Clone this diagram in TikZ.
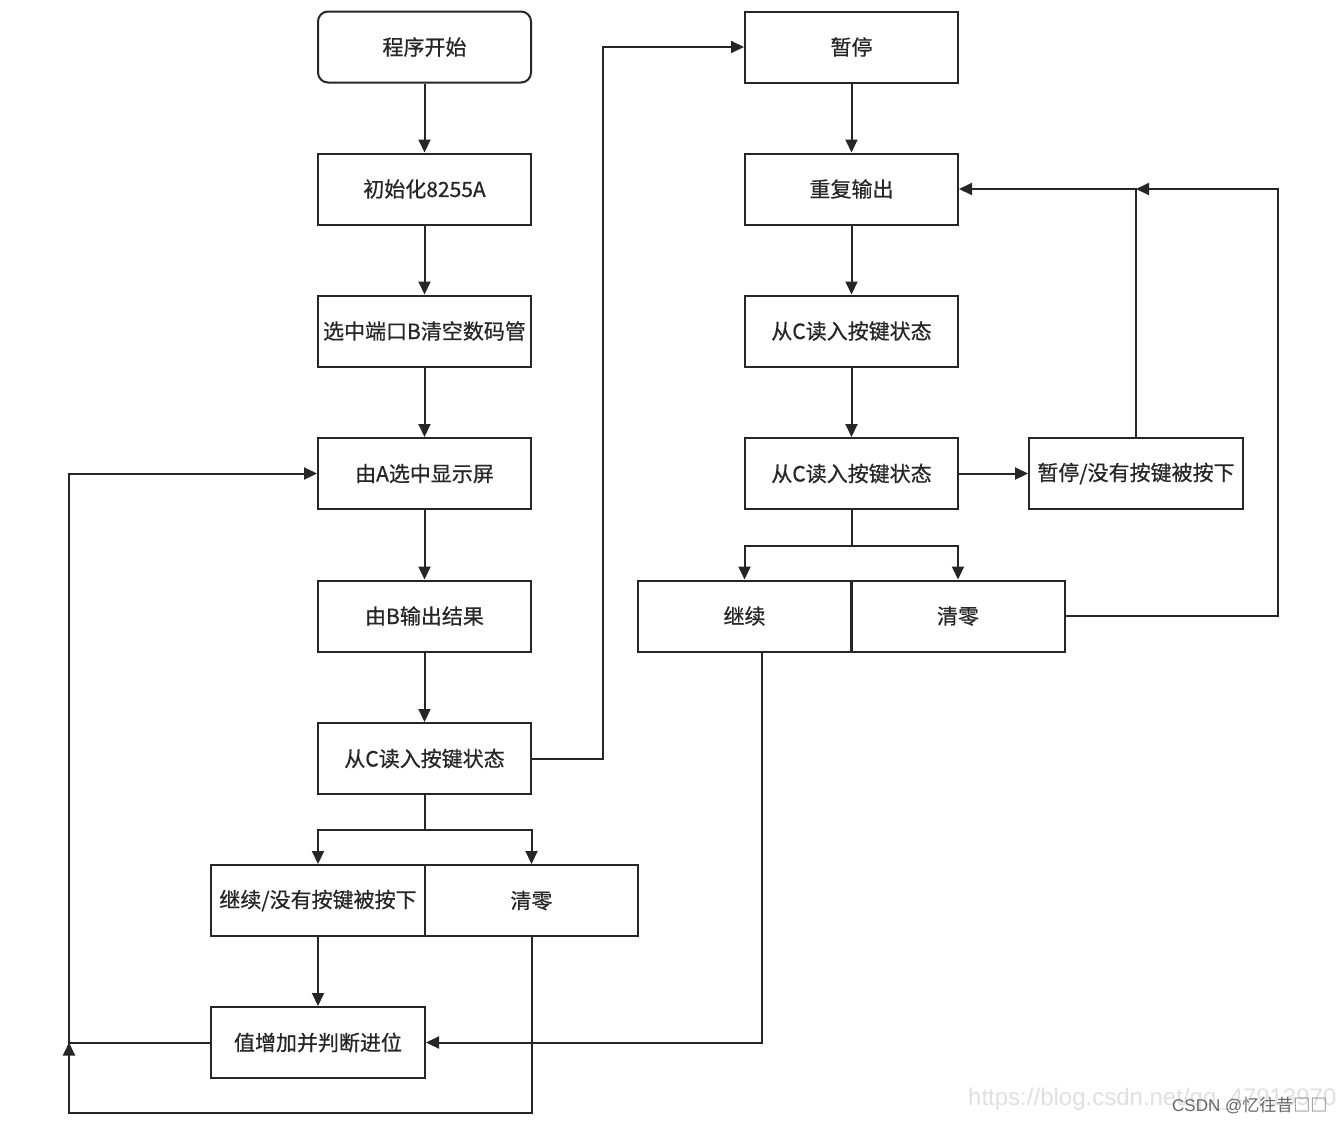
\documentclass[tikz,border=0pt]{standalone}
\usepackage{fontspec}
\setmainfont{Noto Sans CJK SC}
\newfontfamily\boxfont{Noto Sans CJK SC}[FakeBold=0.6]
\newfontfamily\wmfont{Liberation Sans}
\usetikzlibrary{arrows.meta,calc}
\begin{document}
\begin{tikzpicture}[x=1pt,y=-1pt,
  box/.style={draw=black!85,line width=2pt,minimum width=213pt,minimum height=71pt,inner sep=0pt,font=\boxfont\fontsize{21}{24}\selectfont,text=black!85},
  rbox/.style={box,rounded corners=10pt},
  arr/.style={draw=black!85,line width=2pt,-{Triangle[length=13pt,width=12pt]}},
  ln/.style={draw=black!85,line width=2pt}]
\useasboundingbox[fill=white] (0,0) rectangle (1339,1125);
% left column
\node[rbox] (start) at (424.5,47) {程序开始};
\node[box] (init) at (424.5,189) {初始化8255A};
\node[box] (selb) at (424.5,331) {选中端口B清空数码管};
\node[box] (sela) at (424.5,473.5) {由A选中显示屏};
\node[box] (outb) at (424.5,616) {由B输出结果};
\node[box] (readl) at (424.5,758.5) {从C读入按键状态};
\node[box,minimum width=214pt] (lcont) at (318,900.5) {继续/没有按键被按下};
\node[box] (lclr) at (531.5,900.5) {清零};
\node[box,minimum width=214pt] (inc) at (318,1042.5) {值增加并判断进位};
% right column
\node[box] (pause) at (851.5,47) {暂停};
\node[box] (rep) at (851.5,189) {重复输出};
\node[box] (readr1) at (851.5,331) {从C读入按键状态};
\node[box] (readr2) at (851.5,473.5) {从C读入按键状态};
\node[box,minimum width=214pt] (rpause) at (1136,473.5) {暂停/没有按键被按下};
\node[box] (rcont) at (744.5,616) {继续};
\node[box] (rclr) at (958,616) {清零};
\coordinate (J) at (69,1042.5);
\coordinate (K) at (1136,189);
% left arrows
\draw[arr] (start) -- (init);
\draw[arr] (init) -- (selb);
\draw[arr] (selb) -- (sela);
\draw[arr] (sela) -- (outb);
\draw[arr] (outb) -- (readl);
\draw[arr] (readl.east) -- (603,758.5) |- (pause.west);
\draw[arr] (readl.south) -- ++(0,35) -| (lcont.north);
\draw[arr] (readl.south) -- ++(0,35) -| (lclr.north);
\draw[arr] (lcont) -- (inc);
\draw[arr] (lclr.south) |- (69,1113) -- (J);
\draw[arr] (inc.west) -- (J) |- (sela.west);
% right arrows
\draw[arr] (pause) -- (rep);
\draw[arr] (rep) -- (readr1);
\draw[arr] (readr1) -- (readr2);
\draw[arr] (readr2) -- (rpause);
\draw[arr] (readr2.south) -- ++(0,36) -| (rcont.north);
\draw[arr] (readr2.south) -- ++(0,36) -| (rclr.north);
\draw[arr] (rpause.north) |- (rep.east);
\draw[arr] (rclr.east) -- (1278,616) |- (K);
\draw[arr] ($(rcont.south)+(17.5,0)$) |- (inc.east);
% watermark
\node[anchor=west,text=black!12,font=\wmfont\fontsize{24}{26}\selectfont,inner sep=0pt] (wm1) at (968,1099) {https://blog.csdn.net/qq\_47913970};
\node[anchor=west,text=black!60,font=\fontsize{17}{20}\selectfont,inner sep=0pt] (wm2) at (1172,1105) {\wmfont CSDN @\rmfamily 忆往昔□□};
\end{tikzpicture}
\end{document}
